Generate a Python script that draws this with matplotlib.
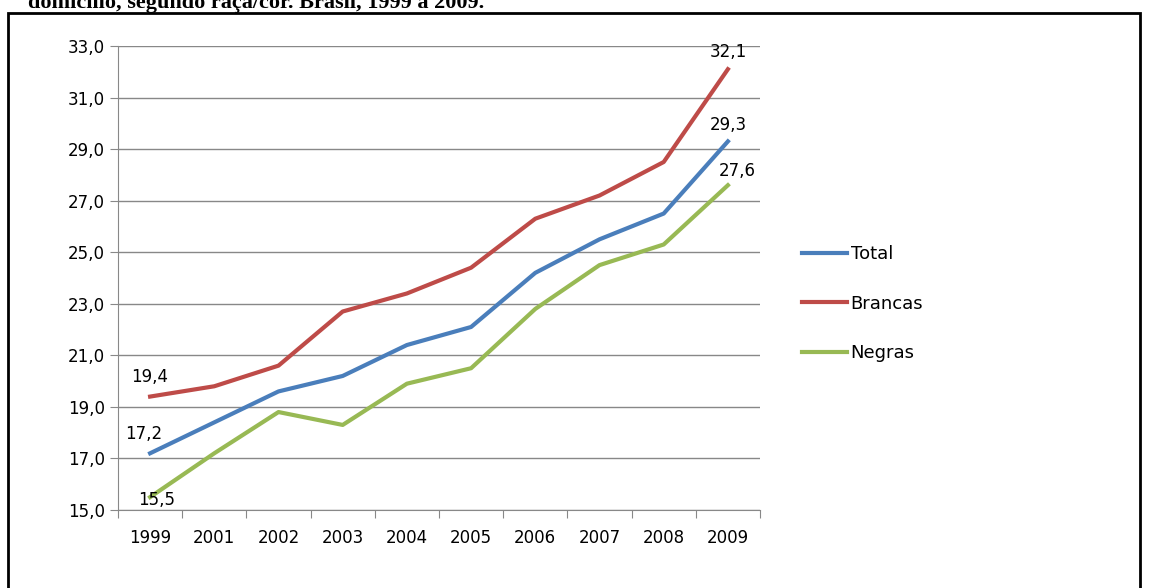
import matplotlib.pyplot as plt
from matplotlib.patches import Rectangle

anos = ['1999', '2001', '2002', '2003', '2004', '2005', '2006', '2007', '2008', '2009']
total = [17.2, 18.4, 19.6, 20.2, 21.4, 22.1, 24.2, 25.5, 26.5, 29.3]
brancas = [19.4, 19.8, 20.6, 22.7, 23.4, 24.4, 26.3, 27.2, 28.5, 32.1]
negras = [15.5, 17.2, 18.8, 18.3, 19.9, 20.5, 22.8, 24.5, 25.3, 27.6]

W, H = 1149, 588
fig = plt.figure(figsize=(W / 100, H / 100), dpi=100)
ax = fig.add_axes([118 / W, 1 - 510 / H, (760 - 118) / W, (510 - 46) / H])

fig.patches.append(Rectangle((8 / W, -0.1), (1140 - 8) / W, 1.1 - 13 / H, transform=fig.transFigure,
                             fill=False, edgecolor='black', linewidth=2))
fig.text(28 / W, 1 - 3 / H, 'domicílio, segundo raça/cor. Brasil, 1999 a 2009.', family='Liberation Serif',
         fontsize=16, fontweight='bold', va='center', ha='left')

x = range(len(anos))
series = [(total, 'Total', '#4a7ebb'), (brancas, 'Brancas', '#be4b48'), (negras, 'Negras', '#98b954')]
for vals, nome, cor in series:
    ax.plot(x, vals, color=cor, linewidth=3, label=nome)

ax.text(0, 19.4 + 0.4, '19,4', fontsize=12, ha='center', va='bottom')
ax.text(-0.1, 17.2 + 0.4, '17,2', fontsize=12, ha='center', va='bottom')
ax.text(0.1, 15.5 - 0.1, '15,5', fontsize=12, ha='center', va='center')
ax.text(9, 32.1 + 0.3, '32,1', fontsize=12, ha='center', va='bottom')
ax.text(9, 29.3 + 0.3, '29,3', fontsize=12, ha='center', va='bottom')
ax.text(9.15, 27.6 + 0.2, '27,6', fontsize=12, ha='center', va='bottom')

ax.set_xlim(-0.5, 9.5)
ax.set_ylim(15, 33)
ax.set_yticks([15 + 2 * i for i in range(10)])
ax.set_yticklabels([f'{15 + 2 * i},0' for i in range(10)], fontsize=12)
ax.set_xticks([i - 0.5 for i in range(11)], minor=False)
ax.set_xticklabels([])
ax.set_xticks(list(x), minor=True)
ax.set_xticklabels(anos, minor=True, fontsize=12)
ax.tick_params(axis='x', which='minor', length=0, pad=14)
ax.tick_params(axis='x', which='major', length=6, color='#888888')
ax.tick_params(axis='y', length=6, color='#888888')
ax.grid(axis='y', color='#888888', linewidth=1)
for s in ['top', 'right']:
    ax.spines[s].set_visible(False)
ax.spines['left'].set_color('#888888')
ax.spines['bottom'].set_color('#888888')

ax.legend(loc='center left', bbox_to_anchor=(1.04, 0.445), frameon=False, fontsize=13,
          handlelength=2.5, labelspacing=1.75, handletextpad=0.2)

fig.savefig('out.png')
